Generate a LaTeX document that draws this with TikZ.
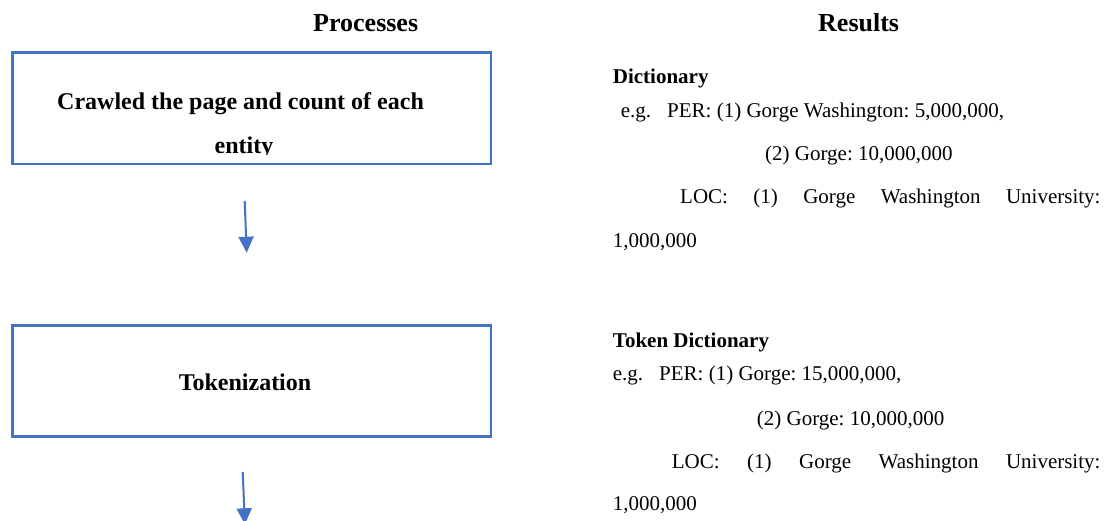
\documentclass[tikz,border=0pt]{standalone}
\usepackage{fontspec}
\setmainfont{Liberation Serif}
\usetikzlibrary{arrows.meta}
\definecolor{wordblue}{HTML}{4472C4}
\frenchspacing
\tikzset{
 procbox/.style={draw=wordblue, line width=2.8pt, minimum width=478.2pt, minimum height=111.2pt, inner sep=0pt, anchor=north west},
 flowarrow/.style={draw=wordblue, line width=2pt, -{Triangle[width=15pt,length=16pt]}},
 header/.style={font=\fontsize{26}{30}\selectfont\bfseries, anchor=base west, inner sep=0pt},
 boxtext/.style={font=\fontsize{24}{28}\selectfont\bfseries, inner sep=0pt},
 body/.style={font=\fontsize{21}{25}\selectfont, anchor=base west, inner sep=0pt},
 bodybold/.style={font=\fontsize{21}{25}\selectfont\bfseries, anchor=base west, inner sep=0pt},
}
\begin{document}
\begin{tikzpicture}[x=1pt,y=-1pt]
\clip (0,0) rectangle (1112,521);
\fill[white] (0,0) rectangle (1112,521);
% headers
\node[header] (hproc) at (313,32) {Processes};
\node[header] (hres) at (818,32) {Results};
% process boxes
\node[procbox] (box1) at (11.4,51.4) {};
\node[procbox] (box2) at (11.4,324.1) {};
\begin{scope}
\clip (11.3,51.3) rectangle (489.7,154.5);
\node[boxtext, anchor=base west] (t1a) at (57,110) {Crawled the page and count of each};
\node[boxtext, anchor=base] (t1b) at (244,154) {entity};
\end{scope}
\node[boxtext, anchor=base] (t2) at (245,391) {Tokenization};
% arrows
\coordinate (a1s) at (244.7,201);
\coordinate (a1e) at (246.7,252.7);
\draw[flowarrow] (a1s) -- (a1e);
\coordinate (a2s) at (242.7,472);
\coordinate (a2e) at (244.9,524.3);
\draw[flowarrow] (a2s) -- (a2e);
% results 1
\node[bodybold] (r1h) at (612.7,84) {Dictionary};
\node[body] (r1a) at (620.7,117.5) {e.g.\hspace{16pt}PER: (1) Gorge Washington: 5,000,000,};
\node[body] (r1b) at (765,161) {(2) Gorge: 10,000,000};
\node[body] (r1c) at (680,204) {\makebox[420.3pt][s]{LOC: (1) Gorge Washington University:}};
\node[body] (r1d) at (612.7,248) {1,000,000};
% results 2
\node[bodybold] (r2h) at (612.7,347.5) {Token Dictionary};
\node[body] (r2a) at (612.7,380.5) {e.g.\hspace{16pt}PER: (1) Gorge: 15,000,000,};
\node[body] (r2b) at (756.7,426) {(2) Gorge: 10,000,000};
\node[body] (r2c) at (671.7,468) {\makebox[428.6pt][s]{LOC: (1) Gorge Washington University:}};
\node[body] (r2d) at (612.7,510.3) {1,000,000};
\end{tikzpicture}
\end{document}
